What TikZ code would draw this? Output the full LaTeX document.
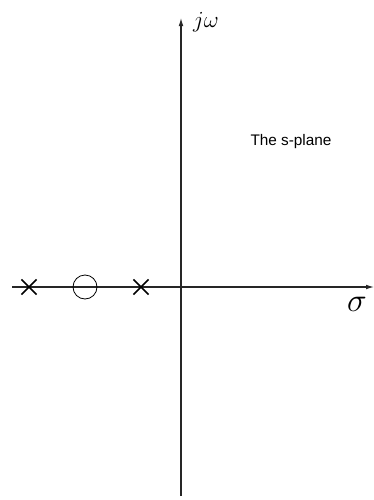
\documentclass[tikz,border=0pt]{standalone}
\usepackage{fontspec}
\setsansfont{Liberation Sans}
\usetikzlibrary{shapes.misc, arrows.meta}

\begin{document}
\begin{tikzpicture}[
    x=0.75pt, y=-0.75pt,
    axis/.style={-{Latex[length=6pt, width=3.5pt]}, line width=0.8pt, black!85},
    pole/.style={cross out, draw, line width=1.3pt, inner sep=0pt,
                minimum size=10pt},
    zero/.style={circle, draw, line width=0.6pt, inner sep=0pt,
                minimum size=18pt},
    axisLabel/.style={inner sep=0pt}
  ]
  \useasboundingbox (0,0) rectangle (374,500);

  %% ---- Axes ----
  \coordinate (sigmaStart) at (12,287);
  \coordinate (sigmaEnd)   at (374,287);
  \coordinate (omegaStart) at (181,496);
  \coordinate (omegaEnd)   at (181,18);
  \draw[axis] (sigmaStart) -- (sigmaEnd);
  \draw[axis] (omegaStart) -- (omegaEnd);

  %% ---- Poles and zero ----
  \node[pole] (p1) at (29,287)  {};
  \node[zero] (z1) at (85,287)  {};
  \node[pole] (p2) at (141,287) {};

  %% ---- Labels ----
  \node[axisLabel, font=\fontsize{18}{21}\selectfont] (omegaLbl) at (206,22) {$j\omega$};
  \node[axisLabel, font=\fontsize{25}{29}\selectfont] (sigmaLbl) at (357,304) {$\sigma$};
  \node[axisLabel, font=\sffamily\fontsize{11.5}{13}\selectfont] (planeLbl) at (291,142) {The s-plane};

\end{tikzpicture}
\end{document}
